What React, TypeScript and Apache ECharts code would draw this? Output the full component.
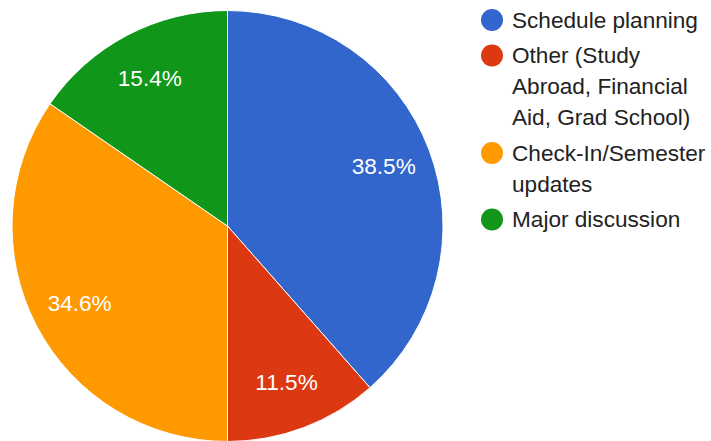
import React, { useEffect, useRef } from "react";
import * as echarts from "echarts";

const CATEGORIES = [
  "Schedule planning",
  "Other (Study Abroad, Financial Aid, Grad School)",
  "Check-In/Semester updates",
  "Major discussion",
];
const VALUES = [38.5, 11.5, 34.6, 15.4];
const COLORS = ["#3366cc", "#dc3912", "#ff9900", "#109618"];
const LEGEND_LINES = [
  ["Schedule planning"],
  ["Other (Study", "Abroad, Financial", "Aid, Grad School)"],
  ["Check-In/Semester", "updates"],
  ["Major discussion"],
];

const FONT = "'Liberation Sans', Arial, sans-serif";
const FS = 22.6;
const CENTER: [number, number] = [227.5, 226];
const R = 215.5;
const LABEL_R = 164;

export default function App() {
  const ref = useRef<HTMLDivElement>(null);
  useEffect(() => {
    document.body.style.margin = "0";
    if (!ref.current) return;
    const chart = echarts.init(ref.current, undefined, { renderer: "svg" });
    const data = CATEGORIES.map((name, i) => ({
      name,
      value: VALUES[i],
      itemStyle: { color: COLORS[i] },
    }));
    const rich: Record<string, any> = {
      g: { width: 9, height: 22 },
      s: { width: 31, height: 22 },
    };
    COLORS.forEach((c, i) => {
      rich["d" + i] = {
        width: 22,
        height: 22,
        borderRadius: 11,
        backgroundColor: c,
        verticalAlign: "middle",
      };
    });
    chart.setOption({
      animation: false,
      backgroundColor: "#ffffff",
      legend: {
        orient: "vertical",
        left: 475,
        top: 4.5,
        padding: 0,
        itemGap: 4.5,
        itemWidth: 0,
        itemHeight: 0,
        selectedMode: false,
        data: CATEGORIES,
        formatter: (name: string) => {
          const i = CATEGORIES.indexOf(name);
          return LEGEND_LINES[i]
            .map((l, j) => (j === 0 ? `{d${i}|}{g|}` : `{s|}`) + l)
            .join("\n");
        },
        textStyle: {
          fontFamily: FONT,
          fontSize: FS,
          color: "#222222",
          lineHeight: 31,
          rich,
        },
      },
      series: [
        {
          type: "pie",
          center: CENTER,
          radius: [0, R],
          startAngle: 90,
          clockwise: true,
          silent: true,
          label: { show: false },
          labelLine: { show: false },
          itemStyle: { borderColor: "#ffffff", borderWidth: 1 },
          data,
        },
        {
          type: "pie",
          center: CENTER,
          radius: [0, LABEL_R * 2],
          startAngle: 90,
          clockwise: true,
          silent: true,
          percentPrecision: 1,
          itemStyle: { color: "transparent", borderWidth: 0 },
          labelLine: { show: false },
          label: {
            show: true,
            position: "inside",
            formatter: "{d}%",
            color: "#ffffff",
            fontFamily: FONT,
            fontSize: FS,
          },
          emphasis: { disabled: true },
          data: CATEGORIES.map((name, i) => ({ name, value: VALUES[i] })),
        },
      ],
    });
    return () => chart.dispose();
  }, []);
  return <div ref={ref} style={{ width: 711, height: 441 }} />;
}
